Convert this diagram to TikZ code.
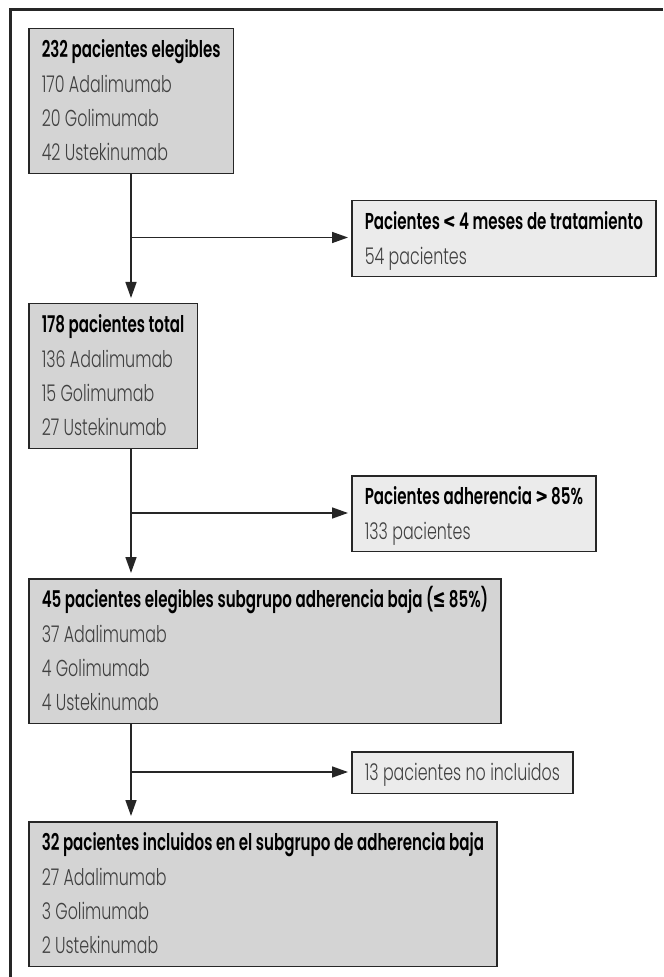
\documentclass[tikz,border=0pt]{standalone}
\usepackage{fontspec}
\setmainfont{Poppins}[UprightFont=* Light, BoldFont=* SemiBold,
  UprightFeatures={FakeStretch=0.69}, BoldFeatures={FakeStretch=0.655}]
\newfontfamily\signfont{Fira Sans}
\usetikzlibrary{arrows.meta}

\newcommand{\boxhead}[1]{\textcolor{black}{\textbf{#1}}}
\newcommand{\topstrut}{\rule{0pt}{14.5pt}}
\newcommand{\botstrut}{\rule[-6.25pt]{0pt}{6.25pt}}

\begin{document}
\begin{tikzpicture}[x=0.5pt,y=-0.5pt,
    mainbox/.style={draw=black!85, line width=0.75pt, fill=black!17, anchor=north west,
      align=left, inner xsep=6.5pt, inner ysep=0pt, text=black!75,
      font=\fontsize{11.5pt}{17.2pt}\selectfont},
    sidebox/.style={mainbox, fill=black!8},
    flow/.style={line width=0.75pt, black!85, -{Triangle[length=8pt,width=5.5pt]}}]

		\useasboundingbox (0,0) rectangle (663,977);
		\draw [line width=1.5pt, black!85] (10,977) -- (10,10) -- (663,10);

		\node [mainbox] (eleg) at (28,28) {\topstrut\boxhead{232 pacientes elegibles}\\
			170 Adalimumab\\ 20 Golimumab\\ 42 Ustekinumab\botstrut};
		\node [sidebox] (menos) at (351,200) {\topstrut\boxhead{Pacientes {\signfont <} 4 meses de tratamiento}\\
			54 pacientes\botstrut};
		\node [mainbox] (tot) at (28,303) {\topstrut\boxhead{178 pacientes total}\\
			136 Adalimumab\\ 15 Golimumab\\ 27 Ustekinumab\botstrut};
		\node [sidebox] (alta) at (351,475) {\topstrut\boxhead{Pacientes adherencia {\signfont >} 85\%}\\
			133 pacientes\botstrut};
		\node [mainbox] (baja) at (28,578) {\topstrut\boxhead{45 pacientes elegibles subgrupo adherencia baja ({\signfont ≤} 85\%)}\\
			37 Adalimumab\\ 4 Golimumab\\ 4 Ustekinumab\botstrut};
		\node [sidebox] (noinc) at (351,751) {\topstrut 13 pacientes no incluidos\botstrut};
		\node [mainbox] (incl) at (28,821) {\topstrut\boxhead{32 pacientes incluidos en el subgrupo de adherencia baja}\\
			27 Adalimumab\\ 3 Golimumab\\ 2 Ustekinumab\botstrut};

		\coordinate (k1) at (131,237.5);
		\coordinate (k2) at (131,513);
		\coordinate (k3) at (131,772);

		\draw [flow, shorten >=2.5pt] (eleg.south -| k1) -- (tot.north -| k1);
		\draw [flow, shorten >=1.5pt] (k1) -- (k1 -| menos.west);
		\draw [flow, shorten >=2.5pt] (tot.south -| k2) -- (baja.north -| k2);
		\draw [flow, shorten >=1.5pt] (k2) -- (k2 -| alta.west);
		\draw [flow, shorten >=2.5pt] (baja.south -| k3) -- (incl.north -| k3);
		\draw [flow, shorten >=1.5pt] (k3) -- (k3 -| noinc.west);

\end{tikzpicture}
\end{document}
